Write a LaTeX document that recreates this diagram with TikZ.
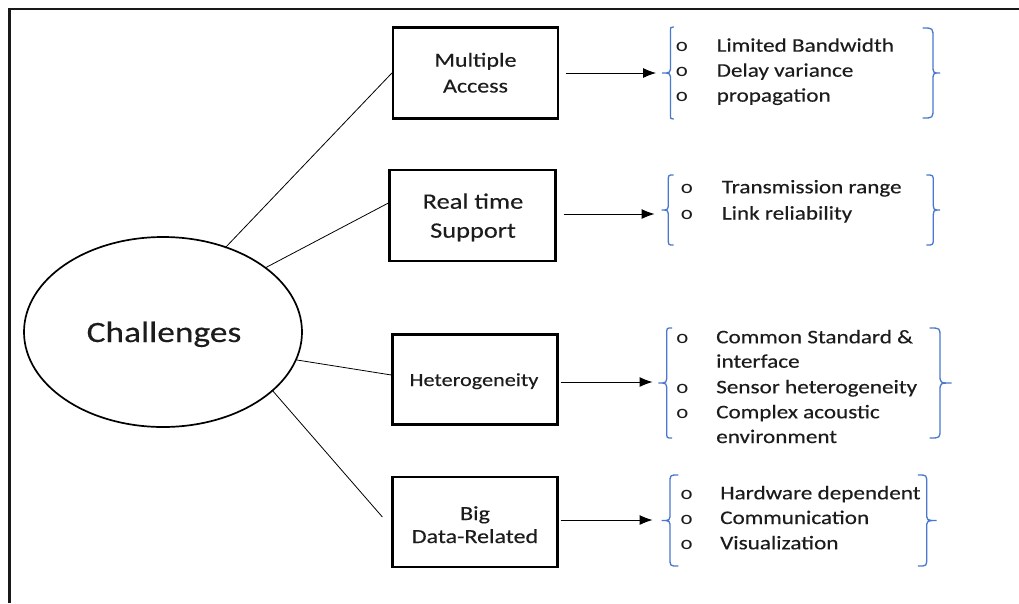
\documentclass[tikz,border=0pt]{standalone}
\usepackage{fontspec}
\setmainfont{Carlito}[FakeStretch=1.2, FakeBold=0.3]
\newfontfamily\markfont{Carlito}[FakeStretch=1.2]
\usetikzlibrary{calc,arrows.meta}
\definecolor{braceblue}{HTML}{4A78CC}
\definecolor{ink}{HTML}{1C1C1C}
\tikzset{
  topic/.style={draw=black, line width=2.2pt, minimum width=165pt, minimum height=91pt, inner sep=0pt},
  boxtext/.style={anchor=base, inner sep=0pt, text=ink, font=\fontsize{20}{24}\selectfont},
  link/.style={draw=black, line width=0.8pt},
  feed/.style={draw=black, line width=1pt, -{Latex[length=13pt,width=10pt]}},
  curly/.style={draw=braceblue, line width=1.3pt, line cap=round},
  bul/.style={anchor=base, inner sep=0pt, text=ink, font=\markfont\fontsize{19}{22}\selectfont},
  item/.style={anchor=base west, inner sep=0pt, text=ink, font=\fontsize{19.3}{24}\selectfont}
}
% curly brace: x of the stem, top, bottom, tip offset, end hook offset, end curve height
\newcommand{\curlybrace}[6]{%
  \draw[curly] ({#1+#5},#2) .. controls (#1,#2) .. (#1,{#2+#6})
    -- (#1,{(#2+#3)/2-8}) .. controls (#1,{(#2+#3)/2}) .. ({#1+#4},{(#2+#3)/2})
    .. controls (#1,{(#2+#3)/2}) .. (#1,{(#2+#3)/2+8})
    -- (#1,{#3-#6}) .. controls (#1,#3) .. ({#1+#5},#3);}
\begin{document}
\begin{tikzpicture}[x=1pt,y=-1pt]
\useasboundingbox (0,0) rectangle (1019,603);
% frame
\draw[line width=2.5pt, black!90] (9.5,603) -- (9.5,9) -- (1019,9);

% central ellipse
\draw[line width=1.7pt] (163,332) ellipse [x radius=139, y radius=95];
\node[anchor=base, inner sep=0pt, text=ink, font=\fontsize{29.5}{32}\selectfont] (ch) at (164,342) {Challenges};
\coordinate (e1) at (225,248);
\coordinate (e2) at (265,268);
\coordinate (e3) at (297,360);
\coordinate (e4) at (272,390);

% topic boxes
\node[topic] (ma) at (475.5,73) {};
\node[topic, minimum width=166pt] (rt) at (472.5,215.5) {};
\node[topic, minimum height=90pt] (he) at (475,379.5) {};
\node[topic, minimum height=90pt] (bd) at (475,522) {};

\node[boxtext] (ma1) at (475.5,66.7) {Multiple};
\node[boxtext] (ma2) at (475.5,92.5) {Access};
\node[boxtext, font=\fontsize{22}{26}\selectfont] (rt1) at (473,208.7) {Real time};
\node[boxtext, font=\fontsize{22}{26}\selectfont] (rt2) at (473,237.7) {Support};
\node[boxtext, font=\fontsize{18.5}{22}\selectfont] (he1) at (474,386) {Heterogeneity};
\node[boxtext] (bd1) at (475,520) {Big};
\node[boxtext] (bd2) at (475,543) {Data-Related};

\draw[link] (e1) -- (ma.west);
\draw[link] (e2) -- ($(rt.west)+(0,-12.5)$);
\draw[link] (e3) -- ($(he.west)+(0,-4.5)$);
\draw[link] (e4) -- ($(bd.west)+(-9,-5)$);

% arrows to detail groups
\coordinate (s1) at ($(ma.east)+(7,0)$);
\coordinate (a1) at ($(ma.east)+(97,0)$);
\coordinate (s2) at ($(rt.east)+(7,-1.5)$);
\coordinate (a2) at ($(rt.east)+(98,-1.5)$);
\coordinate (s3) at ($(he.east)+(2,2.5)$);
\coordinate (a3) at ($(he.east)+(94,2.5)$);
\coordinate (s4) at ($(bd.east)+(2,-2)$);
\coordinate (a4) at ($(bd.east)+(94,-2)$);
\draw[feed] (s1) -- (a1);
\draw[feed] (s2) -- (a2);
\draw[feed] (s3) -- (a3);
\draw[feed] (s4) -- (a4);

% braces
\curlybrace{670.5}{27}{119}{-8.5}{3}{5}
\curlybrace{933}{28}{118}{7}{-10}{10}
\curlybrace{668.3}{175}{245}{-6.6}{5}{6}
\curlybrace{933.3}{175}{245}{6.7}{-6.6}{7}
\curlybrace{666.7}{328}{438}{-8.4}{5}{6}
\curlybrace{940}{328}{438}{11.7}{-10}{9}
\curlybrace{670}{475}{566}{-8.3}{8}{8}
\curlybrace{926.7}{475}{566}{10}{-8.4}{8}

% group 1
\node[bul] (b11) at (682,51.7) {o};
\node[bul] (b12) at (682,76.7) {o};
\node[bul] (b13) at (682,101.7) {o};
\node[item] (t11) at (716.5,51.7) {Limited Bandwidth};
\node[item] (t12) at (716.5,76.7) {Delay variance};
\node[item] (t13) at (716.5,101.7) {propagation};

% group 2
\node[bul] (b21) at (687,193.3) {o};
\node[bul] (b22) at (687,219.5) {o};
\node[item] (t21) at (721.7,193.3) {Transmission range};
\node[item] (t22) at (721.7,219.5) {Link reliability};

% group 3
\node[bul] (b31) at (682.3,343.3) {o};
\node[bul] (b32) at (682.3,393.3) {o};
\node[bul] (b33) at (682.3,418.3) {o};
\node[item] (t31) at (716,343.3) {Common Standard \&};
\node[item] (t32) at (716,367.7) {interface};
\node[item] (t33) at (716,393.3) {Sensor heterogeneity};
\node[item] (t34) at (716,418.3) {Complex acoustic};
\node[item] (t35) at (716,443) {environment};

% group 4
\node[bul] (b41) at (686.7,499.3) {o};
\node[bul] (b42) at (686.7,524) {o};
\node[bul] (b43) at (686.7,549.3) {o};
\node[item] (t41) at (720,499.3) {Hardware dependent};
\node[item] (t42) at (720,524) {Communication};
\node[item] (t43) at (720,549.3) {Visualization};
\end{tikzpicture}
\end{document}
